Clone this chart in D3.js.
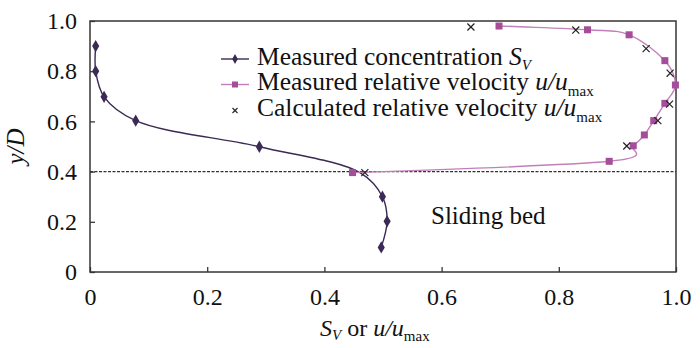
<!DOCTYPE html>
<html>
<head>
<meta charset="utf-8">
<script src="https://cdn.jsdelivr.net/npm/d3@7"></script>
<style>
body { margin: 0; background: #fff; }
svg { display: block; font-family: "Liberation Serif", "Times New Roman", serif; }
</style>
</head>
<body>
<svg width="700" height="348"></svg>
<script>
// ---------------- data ----------------
var xTicks = [0, 0.2, 0.4, 0.6, 0.8, 1.0];
var yTicks = [0, 0.2, 0.4, 0.6, 0.8, 1.0];

// measured concentration S_V vs y/D
var concentration = [
  [0.0097, 0.90], [0.0097, 0.80], [0.024, 0.698], [0.078, 0.603],
  [0.289, 0.499], [0.499, 0.300], [0.507, 0.202], [0.497, 0.098]
];
// point where the concentration curve crosses the bed line (hidden under other marks)
var concBend = [0.462, 0.394];

// measured relative velocity u/umax vs y/D
var velocity = [
  [0.448, 0.396], [0.886, 0.441], [0.927, 0.503], [0.946, 0.546],
  [0.962, 0.603], [0.981, 0.672], [0.999, 0.745], [0.981, 0.842],
  [0.920, 0.945], [0.849, 0.965], [0.698, 0.980]
];

// calculated relative velocity
var calculated = [
  [0.469, 0.396], [0.916, 0.502], [0.969, 0.603], [0.989, 0.669],
  [0.990, 0.792], [0.949, 0.890], [0.829, 0.964], [0.650, 0.976]
];

var bedLevel = 0.4;

function draw() {
// ---------------- canvas ----------------
var svg = d3.select("svg");
var pLeft = 90, pRight = 676, pTop = 21, pBottom = 272;

var xs = d3.scaleLinear().domain([0, 1]).range([pLeft, pRight]);
var ys = d3.scaleLinear().domain([0, 1]).range([pBottom, pTop]);

var axisColor = "#3a3535";
var concColor = "#3b2a55";
var velLine = "#c27fbb";
var velMark = "#a54d98";

var fmt = function(d) { return d === 0 ? "0" : d3.format(".1f")(d); };

// frame
svg.append("rect")
  .attr("x", pLeft).attr("y", pTop)
  .attr("width", pRight - pLeft).attr("height", pBottom - pTop)
  .attr("fill", "none").attr("stroke", axisColor).attr("stroke-width", 1.5);

// axes (ticks inward)
svg.append("g")
  .attr("transform", "translate(0," + pBottom + ")")
  .call(d3.axisBottom(xs).tickValues(xTicks).tickFormat(fmt).tickSizeInner(-5).tickSizeOuter(0).tickPadding(16))
  .call(function(g) {
    g.select(".domain").remove();
    g.selectAll("line").attr("stroke", axisColor).attr("stroke-width", 1.3);
    g.selectAll("text").attr("font-size", 24).attr("fill", "#111")
      .attr("font-family", "Liberation Serif");
  });

svg.append("g")
  .attr("transform", "translate(" + pLeft + ",0)")
  .call(d3.axisLeft(ys).tickValues(yTicks).tickFormat(fmt).tickSizeInner(-5).tickSizeOuter(0).tickPadding(13))
  .call(function(g) {
    g.select(".domain").remove();
    g.selectAll("line").attr("stroke", axisColor).attr("stroke-width", 1.3);
    g.selectAll("text").attr("font-size", 24).attr("fill", "#111")
      .attr("font-family", "Liberation Serif");
  });

// bed line
svg.append("line")
  .attr("x1", xs(0)).attr("x2", xs(1))
  .attr("y1", ys(bedLevel)).attr("y2", ys(bedLevel))
  .attr("stroke", "#333").attr("stroke-width", 1.2)
  .attr("stroke-dasharray", "3,1.5");

// ---------------- curves ----------------
var line = d3.line()
  .x(function(d) { return xs(d[0]); })
  .y(function(d) { return ys(d[1]); })
  .curve(d3.curveCatmullRom.alpha(0.5));

var concPath = concentration.slice(0, 5).concat([concBend]).concat(concentration.slice(5));

svg.append("path").datum(concPath)
  .attr("d", line).attr("fill", "none")
  .attr("stroke", concColor).attr("stroke-width", 1.4);

svg.append("path").datum(velocity)
  .attr("d", line.curve(d3.curveCatmullRom.alpha(0))).attr("fill", "none")
  .attr("stroke", velLine).attr("stroke-width", 1.4);

// markers
var diamond = d3.symbol().type(d3.symbolDiamond).size(44);
svg.append("g").selectAll("path")
  .data(concentration).enter().append("path")
  .attr("d", diamond)
  .attr("transform", function(d) { return "translate(" + xs(d[0]) + "," + ys(d[1]) + ")"; })
  .attr("fill", concColor);

svg.append("g").selectAll("rect")
  .data(velocity).enter().append("rect")
  .attr("x", function(d) { return xs(d[0]) - 3.5; })
  .attr("y", function(d) { return ys(d[1]) - 3.5; })
  .attr("width", 7).attr("height", 7)
  .attr("fill", velMark);

var cross = d3.symbol().type(d3.symbolX).size(34);
svg.append("g").selectAll("path")
  .data(calculated).enter().append("path")
  .attr("d", cross)
  .attr("transform", function(d) { return "translate(" + xs(d[0]) + "," + ys(d[1]) + ")"; })
  .attr("fill", "none").attr("stroke", "#222").attr("stroke-width", 1.2);

// ---------------- legend ----------------
var lg = svg.append("g").attr("font-size", 25.5).attr("fill", "#111");
var lx1 = 221, lx2 = 249, ltx = 257;
var rows = [59, 84.5, 110.5];

lg.append("line").attr("x1", lx1).attr("x2", lx2).attr("y1", rows[0]).attr("y2", rows[0])
  .attr("stroke", concColor).attr("stroke-width", 1.4);
lg.append("path").attr("d", d3.symbol().type(d3.symbolDiamond).size(28))
  .attr("transform", "translate(" + (lx1 + lx2) / 2 + "," + rows[0] + ")").attr("fill", concColor);

lg.append("line").attr("x1", lx1).attr("x2", lx2).attr("y1", rows[1]).attr("y2", rows[1])
  .attr("stroke", velLine).attr("stroke-width", 1.4);
lg.append("rect").attr("x", (lx1 + lx2) / 2 - 3).attr("y", rows[1] - 3)
  .attr("width", 6).attr("height", 6).attr("fill", velMark);

lg.append("path").attr("d", d3.symbol().type(d3.symbolX).size(18))
  .attr("transform", "translate(" + (lx1 + lx2) / 2 + "," + rows[2] + ")")
  .attr("fill", "none").attr("stroke", "#222").attr("stroke-width", 1.1);

var t1 = lg.append("text").attr("x", ltx).attr("y", rows[0] + 5.5);
t1.append("tspan").text("Measured concentration ");
t1.append("tspan").attr("font-style", "italic").text("S");
t1.append("tspan").attr("font-style", "italic").attr("font-size", 15).attr("dy", 5).text("V");

var t2 = lg.append("text").attr("x", ltx).attr("y", rows[1] + 5.5);
t2.append("tspan").text("Measured relative velocity ");
t2.append("tspan").attr("font-style", "italic").text("u/u");
t2.append("tspan").attr("font-size", 15).attr("dy", 6).text("max");

var t3 = lg.append("text").attr("x", ltx).attr("y", rows[2] + 5.5);
t3.append("tspan").text("Calculated relative velocity ");
t3.append("tspan").attr("font-style", "italic").text("u/u");
t3.append("tspan").attr("font-size", 15).attr("dy", 6).text("max");

// region label
svg.append("text").attr("x", 431).attr("y", 224)
  .attr("font-size", 25).attr("fill", "#111").text("Sliding bed");

// ---------------- axis titles ----------------
var xt = svg.append("text").attr("x", 320).attr("y", 336)
  .attr("font-size", 24).attr("fill", "#111");
xt.append("tspan").attr("font-style", "italic").text("S");
xt.append("tspan").attr("font-style", "italic").attr("font-size", 15).attr("dy", 4).text("V");
xt.append("tspan").attr("dy", -4).text(" or ");
xt.append("tspan").attr("font-style", "italic").text("u/u");
xt.append("tspan").attr("font-size", 15).attr("dy", 5).text("max");

svg.append("text")
  .attr("transform", "translate(24," + (pTop + pBottom) / 2 + ") rotate(-90)")
  .attr("text-anchor", "middle").attr("font-size", 25).attr("font-style", "italic")
  .attr("fill", "#111").text("y/D");
}
draw();
</script>
</body>
</html>
